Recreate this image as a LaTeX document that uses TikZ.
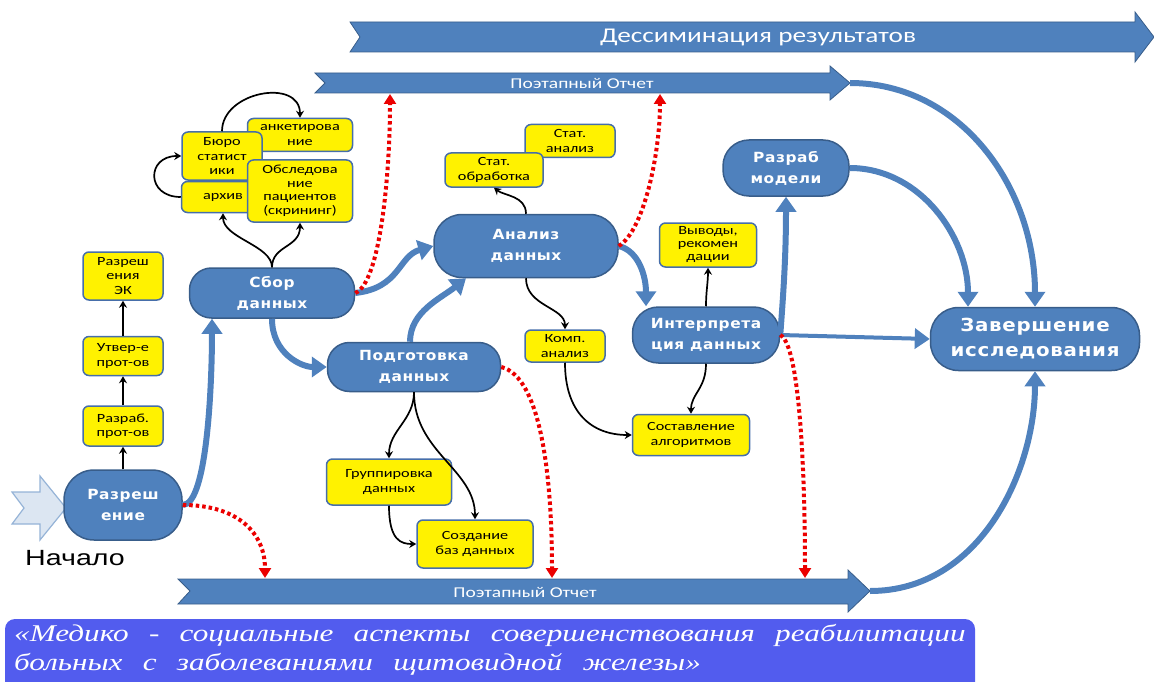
\documentclass[tikz,border=0pt]{standalone}
\usepackage{fontspec}
\setmainfont{DejaVu Sans}
\newfontfamily\yellowfont[FakeStretch=1.3]{Carlito}
\newfontfamily\bluefont[FakeStretch=1.1,LetterSpace=4]{DejaVu Sans}
\newfontfamily\bannerfont[FakeStretch=1.3]{Carlito}
\newfontfamily\titlefont[FakeStretch=1.3,WordSpace=2.6]{Liberation Serif}
\newfontfamily\startfont[FakeStretch=1.3]{Liberation Sans}
\usetikzlibrary{arrows.meta}
\definecolor{nodeblue}{RGB}{79,129,189}
\definecolor{edgeblue}{RGB}{56,93,138}
\definecolor{boxedge}{RGB}{70,110,170}
\definecolor{titleblue}{RGB}{82,92,238}
\definecolor{paleblue}{RGB}{220,230,242}
\definecolor{paleedge}{RGB}{149,179,215}
\definecolor{dotred}{RGB}{235,0,0}

\begin{document}
\begin{tikzpicture}[x=1pt, y=-1pt,
    bluenode/.style={draw=edgeblue, line width=1.5pt, fill=nodeblue, rounded corners=22pt, text=white, align=center, inner sep=0pt, font=\bluefont\bfseries\fontsize{14}{21}\selectfont},
    ybox/.style={draw=boxedge, line width=1.5pt, fill=yellow, rounded corners=6pt, align=center, inner sep=0pt, font=\yellowfont\fontsize{12.5}{14.5}\selectfont},
    banner/.style={fill=nodeblue, draw=edgeblue, line width=0.8pt},
    bannertext/.style={text=white, inner sep=0pt},
    conn/.style={line width=1.7pt, -{Stealth[length=7pt,width=8pt]}},
    flow/.style={line width=6pt, nodeblue, -{Triangle[length=15pt,width=20pt]}},
    report/.style={dotred, line width=4pt, dash pattern=on 3.5pt off 3pt, -{Triangle[length=10pt,width=12pt]}}]
    \useasboundingbox (0,0) rectangle (1154,682);

    % banner dissemination
    \draw[banner] (350,22) -- (1135,22) -- (1135,12) -- (1154,37) -- (1135,62) -- (1135,52) -- (350,52) -- (360,37) -- cycle;
    \node[bannertext, font=\bannerfont\fontsize{21}{25}\selectfont] (dissem) at (758,37) {Дессиминация результатов};

    % banner report top
    \draw[banner] (315,73) -- (830,73) -- (830,66) -- (850,83) -- (830,100) -- (830,93) -- (315,93) -- (325,83) -- cycle;
    \node[bannertext, font=\bannerfont\fontsize{15}{18}\selectfont] (reptop) at (582,83) {Поэтапный Отчет};
    \coordinate (uptip) at (850,83);
    \coordinate (upa) at (390,94);
    \coordinate (upb) at (660,94);

    % banner report bottom
    \draw[banner] (178,579) -- (848,579) -- (848,570) -- (870,591) -- (848,612) -- (848,604) -- (178,604) -- (190,591) -- cycle;
    \node[bannertext, font=\bannerfont\fontsize{15}{18}\selectfont] (repbot) at (525,592) {Поэтапный Отчет};
    \coordinate (lowtip) at (870,591);
    \coordinate (lowa) at (265,578);
    \coordinate (lowb) at (552,578);
    \coordinate (lowc) at (805,578);

    % start
    \draw[fill=paleblue, draw=paleedge, line width=1.2pt] (12,492) -- (40,492) -- (40,476) -- (66,508) -- (40,540) -- (40,524) -- (12,524) -- (24,508) -- cycle;
    \node[font=\startfont\fontsize{22}{26}\selectfont] (start) at (75,558) {Начало};

    % title
    \fill[titleblue, rounded corners=10pt] (5,619) rectangle (975,692);
    \node[anchor=north west, align=left, text=white, inner sep=0pt, font=\titlefont\itshape\fontsize{24}{29}\selectfont] (title) at (14,624) {«Медико - социальные аспекты совершенствования реабилитации\\больных с заболеваниями щитовидной железы»};

    % blue nodes
    \node[bluenode, rounded corners=30pt, minimum width=118pt, minimum height=70pt] (razr) at (123,505) {Разреш\\ение};
    \node[bluenode, minimum width=165pt, minimum height=50pt] (sbor) at (272,293) {Сбор\\данных};
    \node[bluenode, minimum width=173pt, minimum height=49pt] (podg) at (414,367) {Подготовка\\данных};
    \node[bluenode, rounded corners=28pt, minimum width=184pt, minimum height=63pt] (anal) at (526,246) {Анализ\\данных};
    \node[bluenode, rounded corners=26pt, minimum width=147pt, minimum height=56pt] (interp) at (706,335) {Интерпрета\\ция данных};
    \node[bluenode, rounded corners=26pt, minimum width=126pt, minimum height=56pt] (razmod) at (786,168) {Разраб\\модели};
    \node[bluenode, rounded corners=28pt, minimum width=209pt, minimum height=63pt, font=\bluefont\bfseries\fontsize{18}{25}\selectfont] (zav) at (1035,339) {Завершение\\исследования};

    % yellow boxes
    \node[ybox, minimum width=80pt, minimum height=48pt] (ek) at (123,276) {Разреш\\ения\\ЭК};
    \node[ybox, minimum width=80pt, minimum height=39pt] (utv) at (123,356) {Утвер-е\\прот-ов};
    \node[ybox, minimum width=80pt, minimum height=40pt] (rprot) at (123,426) {Разраб.\\прот-ов};
    \node[ybox, minimum width=105pt, minimum height=33pt] (anket) at (300,135) {анкетирова\\ние};
    \node[ybox, minimum width=80pt, minimum height=48pt] (buro) at (222,156) {Бюро\\статист\\ики};
    \node[ybox, minimum width=83pt, minimum height=31pt] (arkh) at (223,197) {архив};
    \node[ybox, minimum width=105pt, minimum height=62pt, font=\yellowfont\fontsize{12.5}{13.5}\selectfont] (obsl) at (300,191) {Обследова\\ние\\пациентов\\(скрининг)};
    \node[ybox, minimum width=90pt, minimum height=33pt] (stata) at (570,141) {Стат.\\анализ};
    \node[ybox, minimum width=98pt, minimum height=34pt] (stato) at (494,170) {Стат.\\обработка};
    \node[ybox, minimum width=80pt, minimum height=32pt] (komp) at (565,346) {Комп.\\анализ};
    \node[ybox, minimum width=97pt, minimum height=44pt, font=\yellowfont\fontsize{12.5}{13}\selectfont] (vyv) at (708,245) {Выводы,\\рекомен\\дации};
    \node[ybox, minimum width=117pt, minimum height=41pt] (sost) at (691,435) {Составление\\алгоритмов};
    \node[ybox, minimum width=125pt, minimum height=46pt] (grup) at (389,482) {Группировка\\данных};
    \node[ybox, minimum width=116pt, minimum height=48pt] (sozd) at (475,544) {Создание\\баз данных};

    % main flow
    \draw[flow] (razr.east) .. controls +(25,0) and +(0,60) .. ([xshift=-60pt]sbor.south);
    \draw[flow] (sbor.south) .. controls +(0,35) and +(-25,0) .. (podg.west);
    \draw[flow] (sbor.east) .. controls +(45,-5) and +(-35,10) .. (anal.west);
    \draw[flow] ([xshift=-4pt]podg.north) .. controls +(0,-30) and +(-25,20) .. ([xshift=-60pt]anal.south);
    \draw[flow] (anal.east) .. controls +(20,5) and +(0,-30) .. ([xshift=-60pt]interp.north);
    \draw[flow] (interp.east) .. controls +(3,-40) and +(0,60) .. (razmod.south);
    \draw[flow, line width=4pt] (interp.east) -- (zav.west);
    \draw[flow] (razmod.east) .. controls +(70,0) and +(0,-70) .. ([xshift=-67pt]zav.north);
    \draw[flow] (uptip) .. controls +(110,0) and +(0,-120) .. (zav.north);
    \draw[flow] (lowtip) .. controls +(110,0) and +(0,100) .. (zav.south);

    % reports
    \draw[report] (razr.east) .. controls +(55,0) and +(0,-45) .. (lowa);
    \draw[report] (sbor.east) .. controls +(25,-10) and +(0,80) .. (upa);
    \draw[report] (anal.east) .. controls +(25,-15) and +(0,60) .. (upb);
    \draw[report] (podg.east) .. controls +(40,10) and +(0,-100) .. (lowb);
    \draw[report] (interp.east) .. controls +(20,10) and +(0,-100) .. (lowc);

    % small steps
    \draw[conn] (razr.north) -- (rprot.south);
    \draw[conn] (rprot.north) -- (utv.south);
    \draw[conn] (utv.north) -- (ek.south);
    \draw[conn] (sbor.north) .. controls +(0,-22) and +(0,25) .. (arkh.south);
    \draw[conn] (sbor.north) .. controls +(0,-22) and +(0,25) .. (obsl.south);
    \draw[conn] (buro.north) .. controls +(0,-40) and +(0,-40) .. (anket.north);
    \draw[conn] (arkh.west) .. controls +(-35,0) and +(-35,0) .. (buro.west);
    \draw[conn] (anal.north) .. controls +(0,-18) and +(10,8) .. (stato.south);
    \draw[conn] (anal.south) .. controls +(0,28) and +(0,-22) .. (komp.north);
    \draw[conn] (komp.south) .. controls +(0,50) and +(-40,0) .. (sost.west);
    \draw[conn] (interp.south) .. controls +(0,25) and +(0,-20) .. (sost.north);
    \draw[conn] (interp.north) .. controls +(0,-15) and +(0,15) .. (vyv.south);
    \draw[conn] (podg.south) .. controls +(0,28) and +(0,-28) .. (grup.north);
    \draw[conn] (podg.south) .. controls +(0,60) and +(0,-50) .. (sozd.north);
    \draw[conn] (grup.south) .. controls +(0,35) and +(-15,0) .. (sozd.west);
\end{tikzpicture}
\end{document}
